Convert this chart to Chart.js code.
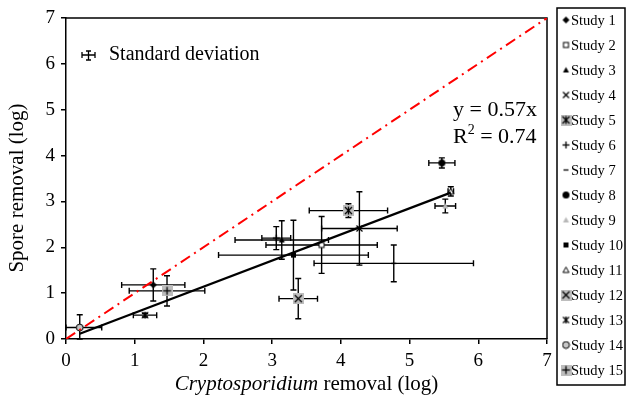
<!DOCTYPE html>
<html>
<head>
<meta charset="utf-8">
<script src="https://cdn.jsdelivr.net/npm/chart.js@4.4.1/dist/chart.umd.min.js"></script>
<style>
  html, body { margin: 0; padding: 0; background: #fff; }
</style>
</head>
<body>
<canvas id="sporeChart" width="626" height="400"></canvas>
<script>
// values (log removal)
const studies = ['Study 1', 'Study 2', 'Study 3', 'Study 4', 'Study 5', 'Study 6', 'Study 7', 'Study 8',
  'Study 9', 'Study 10', 'Study 11', 'Study 12', 'Study 13', 'Study 14', 'Study 15'];
const cryptoRemoval = [1.27, 3.72, 3.14, 4.27, 4.11, 3.06, 4.77, 5.47, 5.52, 3.31, 5.60, 3.38, 1.15, 0.20, 1.47];
const sporeRemoval  = [1.18, 2.05, 2.16, 2.41, 2.80, 2.20, 1.65, 3.84, 2.90, 1.83, 3.22, 0.88, 0.52, 0.25, 1.05];
const cryptoSD      = [0.46, 0.81, 0.68, 0.55, 0.57, 0.21, 1.16, 0.19, 0.15, 1.09, 0.04, 0.28, 0.17, 0.32, 0.55];
const sporeSD       = [0.35, 0.62, 0.42, 0.80, 0.15, 0.25, 0.40, 0.11, 0.15, 0.76, 0.10, 0.44, 0.04, 0.28, 0.33];
const fitSlope = 0.57;
const fitR2 = 0.74;
const fitFrom = 0.2, fitTo = 5.6;
const axisMax = 7;

const serif = '"Liberation Serif", "DejaVu Serif", serif';
const kinds = ['diamond', 'openSquare', 'triangle', 'cross', 'grayStar', 'plus', 'dash', 'circle',
  'grayTriangle', 'square', 'openTriangle', 'grayCross', 'star', 'openCircle', 'grayPlus'];

function makeMarker(kind) {
  const gray = kind === 'grayStar' || kind === 'grayCross' || kind === 'grayPlus';
  const size = gray ? 11 : 9;
  const c = document.createElement('canvas');
  c.width = c.height = size;
  const g = c.getContext('2d');
  const m = size / 2;
  g.strokeStyle = '#000';
  g.fillStyle = '#000';
  g.lineWidth = 1.3;
  const line = (x1, y1, x2, y2) => { g.beginPath(); g.moveTo(x1, y1); g.lineTo(x2, y2); g.stroke(); };
  if (gray) {
    g.fillStyle = '#bdbdbd';
    g.fillRect(0, 0, size, size);
    if (kind !== 'grayPlus') { line(2, 2, size - 2, size - 2); line(size - 2, 2, 2, size - 2); }
    if (kind === 'grayPlus' || kind === 'grayStar') line(m, 1.5, m, size - 1.5);
    if (kind === 'grayPlus') line(1.5, m, size - 1.5, m);
    return c;
  }
  switch (kind) {
    case 'diamond':
      g.beginPath(); g.moveTo(m, 1); g.lineTo(size - 1, m); g.lineTo(m, size - 1); g.lineTo(1, m); g.fill(); break;
    case 'openSquare':
      g.fillStyle = '#fff'; g.fillRect(2, 2, 5, 5); g.lineWidth = 1; g.strokeRect(2, 2, 5, 5); break;
    case 'square':
      g.fillRect(2, 2, 5, 5); break;
    case 'triangle':
    case 'grayTriangle':
    case 'openTriangle':
      g.beginPath(); g.moveTo(m, 1.5); g.lineTo(size - 1.5, size - 2); g.lineTo(1.5, size - 2); g.closePath();
      if (kind === 'openTriangle') { g.fillStyle = '#fff'; g.fill(); g.lineWidth = 1; g.stroke(); }
      else { if (kind === 'grayTriangle') g.fillStyle = '#b8b8b8'; g.fill(); }
      break;
    case 'cross':
      line(1.5, 1.5, size - 1.5, size - 1.5); line(size - 1.5, 1.5, 1.5, size - 1.5); break;
    case 'star':
      line(1.5, 1.5, size - 1.5, size - 1.5); line(size - 1.5, 1.5, 1.5, size - 1.5);
      line(m, 1, m, size - 1); break;
    case 'plus':
      line(m, 1, m, size - 1); line(1, m, size - 1, m); break;
    case 'dash':
      line(2, m, size - 2, m); break;
    case 'circle':
      g.beginPath(); g.arc(m, m, 3.5, 0, Math.PI * 2); g.fill(); break;
    case 'openCircle':
      g.beginPath(); g.arc(m, m, 3.4, 0, Math.PI * 2); g.fillStyle = '#c8c8c8'; g.fill(); g.lineWidth = 1; g.stroke(); break;
  }
  return c;
}

const markers = kinds.map(makeMarker);

const studyDatasets = studies.map((name, i) => ({
  label: name,
  data: [{ x: cryptoRemoval[i], y: sporeRemoval[i] }],
  pointStyle: markers[i],
  pointRadius: 5,
  showLine: false
}));

const fitLine = {
  label: 'fit',
  data: [{ x: fitFrom, y: fitSlope * fitFrom }, { x: fitTo, y: fitSlope * fitTo }],
  showLine: true,
  borderColor: '#000',
  borderWidth: 2.2,
  pointRadius: 0
};
const oneToOne = {
  label: '1:1',
  data: [{ x: 0, y: 0 }, { x: axisMax, y: axisMax }],
  showLine: true,
  borderColor: '#ff0000',
  borderWidth: 2,
  borderDash: [11, 5, 2, 5],
  pointRadius: 0
};

const decor = {
  id: 'decor',
  beforeDatasetsDraw(chart) {
    const { ctx, chartArea: a, scales: { x, y } } = chart;
    ctx.save();
    ctx.strokeStyle = '#000';
    ctx.lineWidth = 1.5;
    ctx.beginPath();
    ctx.moveTo(a.left, a.top); ctx.lineTo(a.right, a.top); ctx.lineTo(a.right, a.bottom);
    ctx.stroke();
    // error bars
    ctx.lineWidth = 1.4;
    const cap = 3;
    studies.forEach((s, i) => {
      const px = x.getPixelForValue(cryptoRemoval[i]);
      const py = y.getPixelForValue(sporeRemoval[i]);
      const x1 = Math.max(a.left, x.getPixelForValue(cryptoRemoval[i] - cryptoSD[i]));
      const x2 = x.getPixelForValue(cryptoRemoval[i] + cryptoSD[i]);
      const y1 = y.getPixelForValue(sporeRemoval[i] + sporeSD[i]);
      const y2 = Math.min(a.bottom, y.getPixelForValue(sporeRemoval[i] - sporeSD[i]));
      ctx.beginPath();
      ctx.moveTo(x1, py); ctx.lineTo(x2, py);
      ctx.moveTo(x1, py - cap); ctx.lineTo(x1, py + cap);
      ctx.moveTo(x2, py - cap); ctx.lineTo(x2, py + cap);
      ctx.moveTo(px, y1); ctx.lineTo(px, y2);
      ctx.moveTo(px - cap, y1); ctx.lineTo(px + cap, y1);
      ctx.moveTo(px - cap, y2); ctx.lineTo(px + cap, y2);
      ctx.stroke();
    });
    ctx.restore();
  },
  afterDraw(chart) {
    const { ctx, chartArea: a } = chart;
    ctx.save();
    ctx.fillStyle = '#000';
    ctx.strokeStyle = '#000';
    ctx.textBaseline = 'alphabetic';

    // x title with italic organism name
    ctx.font = 'italic 21px ' + serif;
    const part1 = 'Cryptosporidium';
    const w1 = ctx.measureText(part1).width;
    ctx.font = '21px ' + serif;
    const part2 = ' removal (log)';
    const w2 = ctx.measureText(part2).width;
    const sx = (a.left + a.right) / 2 - (w1 + w2) / 2;
    ctx.font = 'italic 21px ' + serif;
    ctx.fillText(part1, sx, 390);
    ctx.font = '21px ' + serif;
    ctx.fillText(part2, sx + w1, 390);

    // y title
    ctx.save();
    ctx.translate(17, 188);
    ctx.rotate(-Math.PI / 2);
    ctx.textAlign = 'center';
    ctx.textBaseline = 'middle';
    ctx.font = '21px ' + serif;
    ctx.fillText('Spore removal (log)', 0, 0);
    ctx.restore();

    // standard deviation key
    ctx.lineWidth = 1.3;
    ctx.beginPath();
    ctx.moveTo(82, 55); ctx.lineTo(95, 55);
    ctx.moveTo(82, 52); ctx.lineTo(82, 58);
    ctx.moveTo(95, 52); ctx.lineTo(95, 58);
    ctx.moveTo(88.5, 51); ctx.lineTo(88.5, 60);
    ctx.moveTo(86, 51); ctx.lineTo(91, 51);
    ctx.moveTo(86, 60); ctx.lineTo(91, 60);
    ctx.stroke();
    ctx.font = '20px ' + serif;
    ctx.textBaseline = 'middle';
    ctx.fillText('Standard deviation', 109, 55);

    // equation
    ctx.textBaseline = 'alphabetic';
    ctx.font = '22px ' + serif;
    ctx.fillText('y = ' + fitSlope + 'x', 453, 116);
    ctx.fillText('R', 453, 143);
    const rw = ctx.measureText('R').width;
    ctx.font = '14px ' + serif;
    ctx.fillText('2', 453 + rw, 134);
    ctx.font = '22px ' + serif;
    ctx.fillText(' = ' + fitR2, 453 + rw + 7, 143);

    // legend box
    ctx.lineWidth = 1.5;
    ctx.strokeRect(557, 8, 68, 377);
    ctx.font = '14.5px ' + serif;
    ctx.textBaseline = 'middle';
    studies.forEach((s, i) => {
      const cy = 20 + i * 25;
      const mk = markers[i];
      ctx.drawImage(mk, 566 - mk.width / 2, cy - mk.height / 2);
      ctx.fillText(s, 571, cy + 1);
    });
    ctx.restore();
  }
};

const axisFont = { family: serif, size: 19 };

new Chart(document.getElementById('sporeChart'), {
  type: 'scatter',
  data: { datasets: [oneToOne, fitLine, ...studyDatasets] },
  options: {
    responsive: false,
    animation: false,
    layout: { padding: { left: 0, top: 18, right: 79, bottom: 0 } },
    plugins: { legend: { display: false }, tooltip: { enabled: false } },
    scales: {
      x: {
        min: 0, max: axisMax,
        ticks: { stepSize: 1, color: '#000', font: axisFont, padding: 6 },
        grid: { drawOnChartArea: false, drawTicks: true, tickLength: 5, color: '#000', lineWidth: 1.5 },
        border: { color: '#000', width: 1.5 },
        afterFit(s) { s.height = 61; }
      },
      y: {
        min: 0, max: axisMax,
        ticks: { stepSize: 1, color: '#000', font: axisFont, padding: 6 },
        grid: { drawOnChartArea: false, drawTicks: true, tickLength: 5, color: '#000', lineWidth: 1.5 },
        border: { color: '#000', width: 1.5 },
        afterFit(s) { s.width = 66; }
      }
    }
  },
  plugins: [decor]
});
</script>
</body>
</html>
